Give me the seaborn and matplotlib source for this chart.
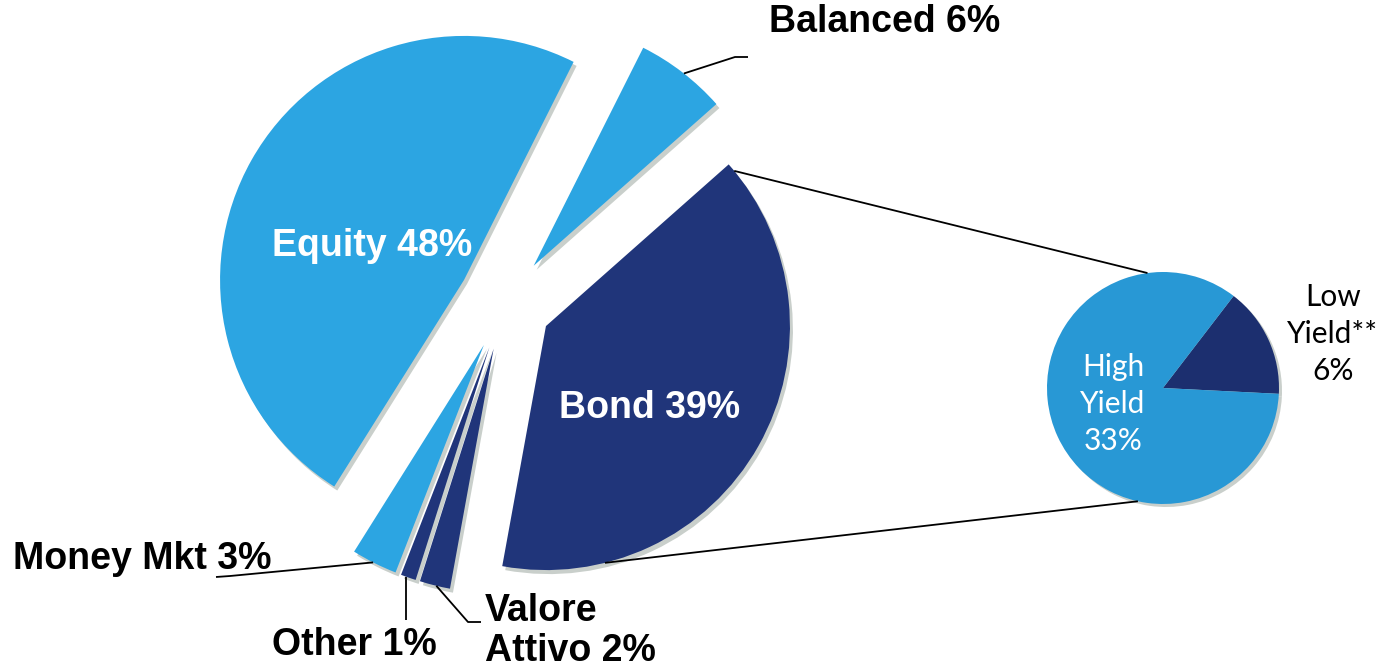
import matplotlib
matplotlib.use("Agg")
import matplotlib.pyplot as plt
import numpy as np
import seaborn as sns

# ---------------- data ----------------
categories = ["Bond", "Valore Attivo", "Other", "Money Mkt", "Equity", "Balanced"]
values = [39, 2, 1, 3, 48, 6]
bond_categories = ["Low Yield**", "High Yield"]
bond_values = [6, 33]

sns.set_theme(style="white")
plt.rcParams["font.family"] = ["Liberation Sans", "DejaVu Sans"]

W, H = 1389, 668
fig = plt.figure(figsize=(W / 100, H / 100), dpi=100)
ax = fig.add_axes([0, 0, 1, 1])


def P(x, y):
    """pixel position (y down) -> data coordinates (y up)"""
    return (x, H - y)


LIGHT = "#2CA5E2"
DARK = "#20357A"
SHADOW = "#C9CFCB"
HY = "#2898D5"
LY = "#1C2F6F"

col_map = {"Bond": DARK, "Valore Attivo": DARK, "Other": DARK,
           "Money Mkt": LIGHT, "Equity": LIGHT, "Balanced": LIGHT}
colors = [col_map[c] for c in categories]

R = 244
center = P(505, 303)
explode = [47] * len(values)   # explode offset in data units (pixels)
start = 41.5
wp = dict(linewidth=0)

# shadow pie
ax.pie(values, colors=[SHADOW] * len(values), radius=R,
       center=(center[0] + 3, center[1] - 4), explode=explode,
       startangle=start, counterclock=False, frame=True, wedgeprops=wp)
wedges, _ = ax.pie(values, colors=colors, radius=R, center=center,
                   explode=explode, startangle=start, counterclock=False,
                   frame=True, wedgeprops=wp)

# secondary pie (Bond breakdown)
c2 = P(1163, 388)
R2 = 116
ax.pie(bond_values, colors=[SHADOW] * 2, radius=R2,
       center=(c2[0] + 3, c2[1] - 3), startangle=52.5, counterclock=False,
       frame=True, wedgeprops=wp)
w2, _ = ax.pie(bond_values, colors=[LY, HY], radius=R2, center=c2,
               startangle=52.5, counterclock=False, frame=True, wedgeprops=wp)

ax.set_xlim(0, W)
ax.set_ylim(0, H)
ax.axis("off")


def arc_pt(w, ang):
    cx, cy = w.center
    a = np.deg2rad(ang)
    return (cx + w.r * np.cos(a), cy + w.r * np.sin(a))


wd = dict(zip(categories, wedges))
lk = dict(color="black", lw=1.3, solid_capstyle="butt")

# connectors Bond -> breakdown pie
b_top = arc_pt(wd["Bond"], 39.5)
b_bot = arc_pt(wd["Bond"], -76)
s_top = (c2[0] + R2 * np.cos(np.deg2rad(97.7)), c2[1] + R2 * np.sin(np.deg2rad(97.7)))
s_bot = (c2[0] + R2 * np.cos(np.deg2rad(257.5)), c2[1] + R2 * np.sin(np.deg2rad(257.5)))
ax.plot([b_top[0], s_top[0]], [b_top[1], s_top[1]], **lk)
ax.plot([b_bot[0], s_bot[0]], [b_bot[1], s_bot[1]], **lk)

# leader lines
p = arc_pt(wd["Balanced"], 52)
ax.plot([p[0], 735, 748], [p[1], H - 57, H - 57], **lk)
p = arc_pt(wd["Money Mkt"], 243)
ax.plot([p[0], 230, 216], [p[1], H - 576, H - 577], **lk)
p = arc_pt(wd["Other"], 250)
ax.plot([p[0], p[0]], [p[1], H - 620], **lk)
p = arc_pt(wd["Valore Attivo"], 256.4)
ax.plot([p[0], 468, 481], [p[1], H - 622, H - 622], **lk)

# labels
bold = dict(fontsize=27, fontweight="bold")
ax.text(*P(372, 246), "Equity 48%", color="white", ha="center", va="center", **bold)
ax.text(*P(650, 408), "Bond 39%", color="white", ha="center", va="center", **bold)
ax.text(*P(769, 22), "Balanced 6%", color="black", ha="left", va="center", **bold)
ax.text(*P(13, 559), "Money Mkt 3%", color="black", ha="left", va="center", **bold)
ax.text(*P(354, 645), "Other 1%", color="black", ha="center", va="center", **bold)
ax.text(*P(485, 631), "Valore\nAttivo 2%", color="black", ha="left", va="center",
        linespacing=1.13, **bold)

small = dict(fontsize=21.5, family=["Lato", "DejaVu Sans"], linespacing=1.38)
ax.text(*P(1333, 334), "Low\nYield**\n6%", color="black", ha="center", va="center", **small)
ax.text(*P(1113, 404), "High\nYield\n33%", color="white", ha="center", va="center", **small)

fig.savefig("out.png", dpi=100, facecolor="white")
